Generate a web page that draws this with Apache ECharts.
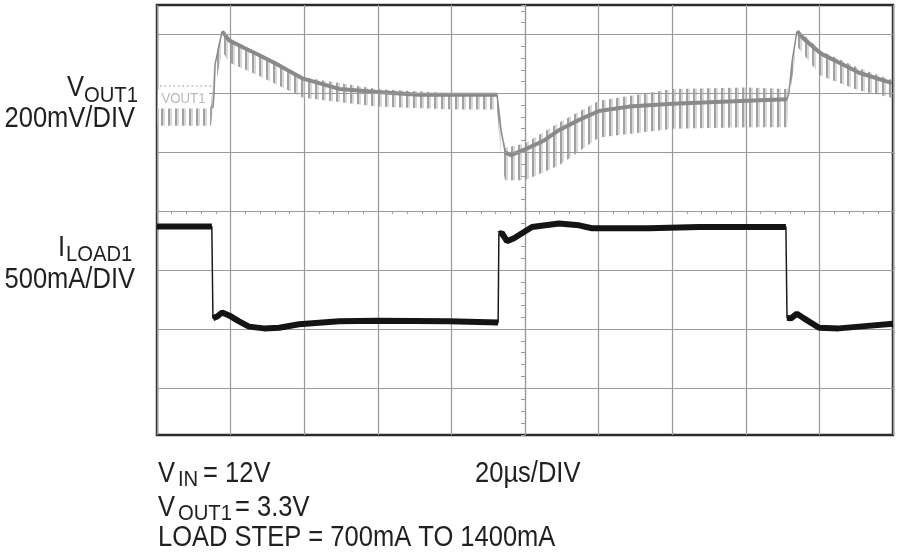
<!DOCTYPE html>
<html>
<head>
<meta charset="utf-8">
<title>VOUT1 load step</title>
<script src="https://cdn.jsdelivr.net/npm/echarts@6/dist/echarts.min.js"></script>
<style>
    html, body { margin: 0; background: #fff; }
    #main { width: 900px; height: 553px; }
</style>
</head>
<body>
<div id="main"></div>
<script>
// time in µs, 20µs/DIV, 0 = centre of the screen
var iloadTime = [-100, -85.1, -84.8, -83.7, -82.3, -80.4, -77.7, -75.0, -70.9, -66.8, -61.4, -50.5, -40.2, -20.7, -7.3,
    -7.1, -6.3, -4.9, -3.0, 1.9, 9.2, 14.7, 18.2, 33.7, 47.3, 70.9, 71.2, 72.3, 73.9, 75.8, 79.9, 85.3, 90.8, 100]
// load current, mA (500mA/DIV)
var iloadMA = [1515, 1515, 735, 750, 785, 760, 710, 665, 650, 655, 685, 710, 715, 710, 700,
    1450, 1460, 1390, 1415, 1510, 1540, 1525, 1500, 1500, 1510, 1510, 740, 735, 775, 735, 655, 650, 665, 690]

// VOUT1 trace centre, mV away from the 3.3V marker (200mV/DIV)
var voutTime = [-84.8, -84.5, -84.2, -82.3, -80.4, -76.4, -72.3, -66.8, -60.3, -50.5, -40.2, -28.8, -19.8, -7.6, -6.5,
    -5.4, -3.8, 0, 5.2, 9.2, 14.7, 20.1, 28.3, 40.2, 60.3, 71.2, 71.7, 72.6, 73.9, 75.8, 80.4, 85.3, 90.8, 99.7]
var voutMV = [-50, 0, 100, 210, 180, 155, 130, 95, 50, 15, 5, -5, -5, -5, -125,
    -200, -210, -190, -160, -125, -90, -60, -45, -35, -25, -20, 0, 110, 210, 185, 135, 105, 70, 35]

// switching ripple envelope around VOUT1, mV
var rippleTime = [-100, -85.3, -84.5, -82.3, -80.4, -72.3, -60.3, -40.2, -19.8, -7.6, -6.3, -5.4, 0, 9.2, 20.1,
    40.2, 60.3, 71.2, 71.7, 73.9, 80.4, 90.8, 99.7]
var rippleHighMV = [-45, -45, 100, 220, 185, 135, 55, 15, 0, 0, -120, -185, -170, -100, -25,
    15, 20, 15, 25, 220, 145, 85, 45]
var rippleLowMV = [-110, -110, 0, 145, 105, 60, -15, -45, -55, -55, -245, -295, -295, -245, -150,
    -120, -115, -115, -25, 160, 60, 10, -15]

// graticule rows (divisions from centre), the centre row is the x axis itself
var gridDivs = [-3, -2, -1, 1, 2, 3]

var DIV_MIN = -3.8, DIV_MAX = 3.5        // visible part of the screen
var VOUT_ZERO_DIV = 2, VOUT_PER_DIV = 200
var ILOAD_ZERO_DIV = -3.29, ILOAD_PER_DIV = 500
var PX_PER_DIV_X = 73.6, PX_PER_DIV_Y = 58.9, US_PER_DIV = 20

var chart = echarts.init(document.getElementById('main'))

// ripple texture: thin vertical spikes
var rip = document.createElement('canvas')
rip.width = 7
rip.height = 8
var rc = rip.getContext('2d')
rc.fillStyle = 'rgba(145,145,145,0.85)'
rc.fillRect(0, 0, 2, 8)
rc.fillStyle = 'rgba(190,190,190,0.6)'
rc.fillRect(2, 0, 2, 8)

function pairs(t, v) {
    return t.map(function (x, i) { return [x, v[i]] })
}

// same points, but steep edges are left out so the thick pen only draws the flat parts
function flatParts(t, v, perDiv) {
    var out = []
    for (var i = 0; i < t.length; i++) {
        if (i > 0) {
            var dy = Math.abs(v[i] - v[i - 1]) / perDiv * PX_PER_DIV_Y
            var dx = Math.abs(t[i] - t[i - 1]) / US_PER_DIV * PX_PER_DIV_X
            if (dy > 3 * dx) out.push([(t[i] + t[i - 1]) / 2, null])
        }
        out.push([t[i], v[i]])
    }
    return out
}

// ripple band: upper envelope forward, lower envelope back
function renderRipple(params, api) {
    var pts = []
    for (var i = 0; i < rippleTime.length; i++) {
        pts.push(api.coord([rippleTime[i], rippleHighMV[i]]))
    }
    for (var j = rippleTime.length - 1; j >= 0; j--) {
        pts.push(api.coord([rippleTime[j], rippleLowMV[j]]))
    }
    return {
        type: 'polygon',
        shape: { points: pts },
        style: { fill: { image: rip, repeat: 'repeat' }, stroke: null }
    }
}

function label(text, x, y, size, align, color, sx) {
    return {
        type: 'text', x: x, y: y, scaleX: sx || 0.88, z: 10,
        style: {
            text: text, fontSize: size, fontFamily: 'Liberation Sans, Arial, sans-serif',
            fill: color || '#231f20', textAlign: align || 'left', align: align || 'left',
            textVerticalAlign: 'middle', verticalAlign: 'middle'
        }
    }
}

var markerLabel = label('VOUT1', 158, 99, 15, 'left', '#b8b8b8')
// white box behind the marker label so the graticule row stops there
markerLabel.style.backgroundColor = '#fff'
markerLabel.style.padding = [2, 4]

var option = {
    animation: false,
    grid: {
        left: 157, right: 7, top: 5, bottom: 118,
        show: true, borderColor: '#2b2b2b', borderWidth: 2.5
    },
    xAxis: {
        type: 'value', min: -100, max: 100, interval: US_PER_DIV,
        axisLine: { onZero: true, onZeroAxisIndex: 0, lineStyle: { color: '#999', width: 1.2 } },
        axisTick: { show: true, length: 4, lineStyle: { color: '#999' } },
        minorTick: { show: true, splitNumber: 5, length: 3, lineStyle: { color: '#999' } },
        axisLabel: { show: false },
        splitLine: { show: true, lineStyle: { color: '#999', width: 1.2 } }
    },
    yAxis: [
        {
            // screen divisions, used for the centre line ticks
            type: 'value', min: DIV_MIN, max: DIV_MAX, interval: 0.2,
            axisLine: { show: true, onZero: true, lineStyle: { color: '#999', width: 1.2 } },
            axisTick: { show: true, length: 4, lineStyle: { color: '#999' } },
            axisLabel: { show: false },
            splitLine: { show: false }
        },
        {
            // VOUT1, mV
            type: 'value', show: false,
            min: (DIV_MIN - VOUT_ZERO_DIV) * VOUT_PER_DIV,
            max: (DIV_MAX - VOUT_ZERO_DIV) * VOUT_PER_DIV,
            splitLine: { show: false }
        },
        {
            // ILOAD1, mA
            type: 'value', show: false,
            min: (DIV_MIN - ILOAD_ZERO_DIV) * ILOAD_PER_DIV,
            max: (DIV_MAX - ILOAD_ZERO_DIV) * ILOAD_PER_DIV,
            splitLine: { show: false }
        }
    ],
    series: [
        {
            name: 'graticule',
            type: 'line', yAxisIndex: 0, symbol: 'none', z: 1,
            data: [],
            markLine: {
                silent: true, symbol: ['none', 'none'], label: { show: false },
                lineStyle: { color: '#999', width: 1.2, type: 'solid' },
                data: gridDivs.map(function (d) { return { yAxis: d } })
            }
        },
        {
            name: 'ripple',
            type: 'custom', yAxisIndex: 1, z: 3, clip: true, silent: true,
            data: [[0, 0]],
            renderItem: renderRipple
        },
        {
            name: 'VOUT1 edges',
            type: 'line', yAxisIndex: 1, symbol: 'none', z: 4,
            lineStyle: { color: '#8a8a8a', width: 1.5 },
            data: pairs(voutTime, voutMV)
        },
        {
            name: 'VOUT1',
            type: 'line', yAxisIndex: 1, symbol: 'none', z: 4, connectNulls: false,
            lineStyle: { color: '#8a8a8a', width: 4 },
            data: flatParts(voutTime, voutMV, VOUT_PER_DIV)
        },
        {
            name: 'ILOAD1 edges',
            type: 'line', yAxisIndex: 2, symbol: 'none', z: 5,
            lineStyle: { color: '#1a1a1a', width: 1.5 },
            data: pairs(iloadTime, iloadMA)
        },
        {
            name: 'ILOAD1',
            type: 'line', yAxisIndex: 2, symbol: 'none', z: 5, connectNulls: false,
            lineStyle: { color: '#141414', width: 6 },
            data: flatParts(iloadTime, iloadMA, ILOAD_PER_DIV)
        }
    ],
    graphic: [
        // channel marker inside the screen
        {
            type: 'line', z: 10, shape: { x1: 160, y1: 86, x2: 213, y2: 86 },
            style: { stroke: '#b5b5b5', lineWidth: 1.5, lineDash: [1.5, 3] }
        },
        markerLabel,
        // left labels
        label('V', 84, 87.5, 29, 'right'),
        label('OUT1', 84, 96, 22, 'left', null, 0.92),
        label('200mV/DIV', 135, 119, 29, 'right'),
        label('I', 65, 248, 29, 'right'),
        label('LOAD1', 66, 255, 22, 'left', null, 0.92),
        label('500mA/DIV', 135, 280, 29, 'right'),
        // notes under the screen
        label('V', 158, 474, 29),
        label('IN', 178, 480, 22, 'left', null, 0.92),
        label('= 12V', 203, 474, 29),
        label('20µs/DIV', 475, 474, 29),
        label('V', 158, 507.5, 29),
        label('OUT1', 178, 514, 22, 'left', null, 0.92),
        label('= 3.3V', 235, 507.5, 29),
        label('LOAD STEP = 700mA TO 1400mA', 158, 538, 29)
    ]
}

chart.setOption(option)
</script>
</body>
</html>
